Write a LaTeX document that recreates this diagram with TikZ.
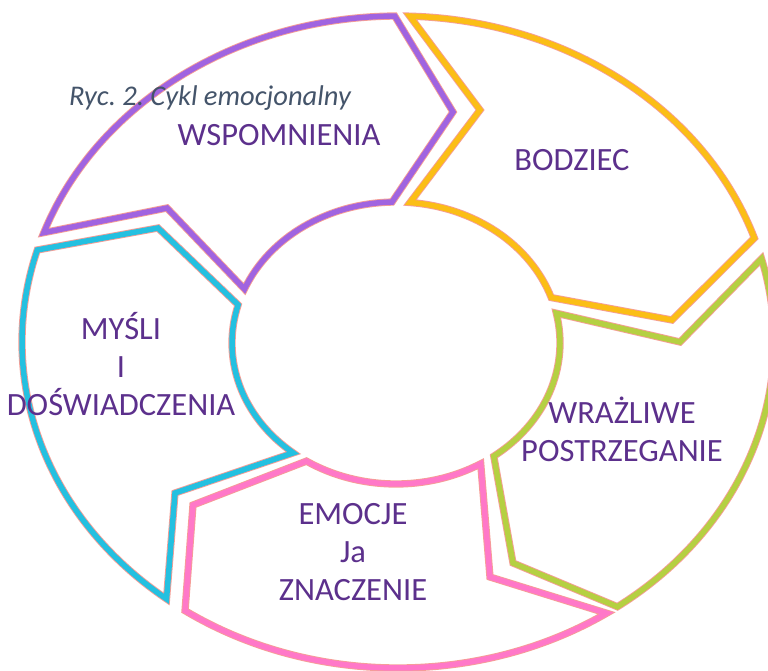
\documentclass[tikz,border=0pt]{standalone}
\usepackage{fontspec}
\setmainfont{Carlito}
\frenchspacing
\definecolor{edgec}{RGB}{245,158,150}
\definecolor{purp}{RGB}{160,100,224}
\definecolor{yell}{RGB}{251,190,22}
\definecolor{gree}{RGB}{181,208,66}
\definecolor{pink}{RGB}{255,120,200}
\definecolor{cyan}{RGB}{36,192,224}
\definecolor{txtc}{RGB}{92,48,140}
\definecolor{capc}{RGB}{68,84,106}
\begin{document}
\begin{tikzpicture}[x=1pt,y=1pt,
  seg/.style={draw=edgec, line width=0.9pt, double distance=5.5pt, line join=miter, miter limit=12},
  lbl/.style={text=txtc, font=\fontsize{32.5}{38}\selectfont, align=center, inner sep=0pt}]
\useasboundingbox (0,0) rectangle (768,-670);
% outer ellipse: centre (398,-342), radii 376 x 326 ; inner: centre (396,-343), radii 164 x 141
% WSPOMNIENIA (purple)
\path[seg, double=purp] ({398+376*cos(160.4)},{-342+326*sin(160.4)})
  arc[start angle=160.4, end angle=90.5, x radius=376, y radius=326]
  -- (453,-112) -- ({396+164*cos(91.4)},{-343+141*sin(91.4)})
  arc[start angle=91.4, end angle=157.5, x radius=164, y radius=141]
  -- (167,-208) -- cycle;
% BODZIEC (yellow)
\path[seg, double=yell] ({398+376*cos(88.2)},{-342+326*sin(88.2)})
  arc[start angle=88.2, end angle=18.6, x radius=376, y radius=326]
  -- (672,-320) -- ({396+164*cos(18.8)},{-343+141*sin(18.8)})
  arc[start angle=18.8, end angle=85.1, x radius=164, y radius=141]
  -- (480,-110) -- cycle;
% WRAZLIWE POSTRZEGANIE (green)
\path[seg, double=gree] ({398+376*cos(14.8)},{-342+326*sin(14.8)})
  arc[start angle=14.8, end angle=-54.3, x radius=376, y radius=326]
  -- (513,-563) -- ({396+164*cos(-53.4)},{-343+141*sin(-53.4)})
  arc[start angle=-53.4, end angle=12.2, x radius=164, y radius=141]
  -- (680,-342) -- cycle;
% EMOCJE (pink)
\path[seg, double=pink] ({398+376*cos(-56.3)},{-342+326*sin(-56.3)})
  arc[start angle=-56.3, end angle=-124.5, x radius=376, y radius=326]
  -- (193,-505) -- ({396+164*cos(-123.1)},{-343+141*sin(-123.1)})
  arc[start angle=-123.1, end angle=-58.9, x radius=164, y radius=141]
  -- (490,-577) -- cycle;
% MYSLI (cyan)
\path[seg, double=cyan] ({398+376*cos(-128.0)},{-342+326*sin(-128.0)})
  arc[start angle=-128.0, end angle=-196.4, x radius=376, y radius=326]
  -- (158,-228) -- ({396+164*cos(-195.7)},{-343+141*sin(-195.7)})
  arc[start angle=-195.7, end angle=-128.8, x radius=164, y radius=141]
  -- (175,-493) -- cycle;
% labels
\node[text=capc, font=\fontsize{28.5}{32}\selectfont\itshape, inner sep=0pt] (cap) at (210,-98) {Ryc. 2. Cykl emocjonalny};
\node[lbl] (wsp) at (279,-135) {WSPOMNIENIA};
\node[lbl] (bod) at (572,-160) {BODZIEC};
\node[lbl] (mys) at (121,-364) {MYŚLI\\I\\DOŚWIADCZENIA};
\node[lbl] (wra) at (622,-429) {WRAŻLIWE\\POSTRZEGANIE};
\node[lbl] (emo) at (353,-552) {EMOCJE\\Ja\\ZNACZENIE};
\end{tikzpicture}
\end{document}
